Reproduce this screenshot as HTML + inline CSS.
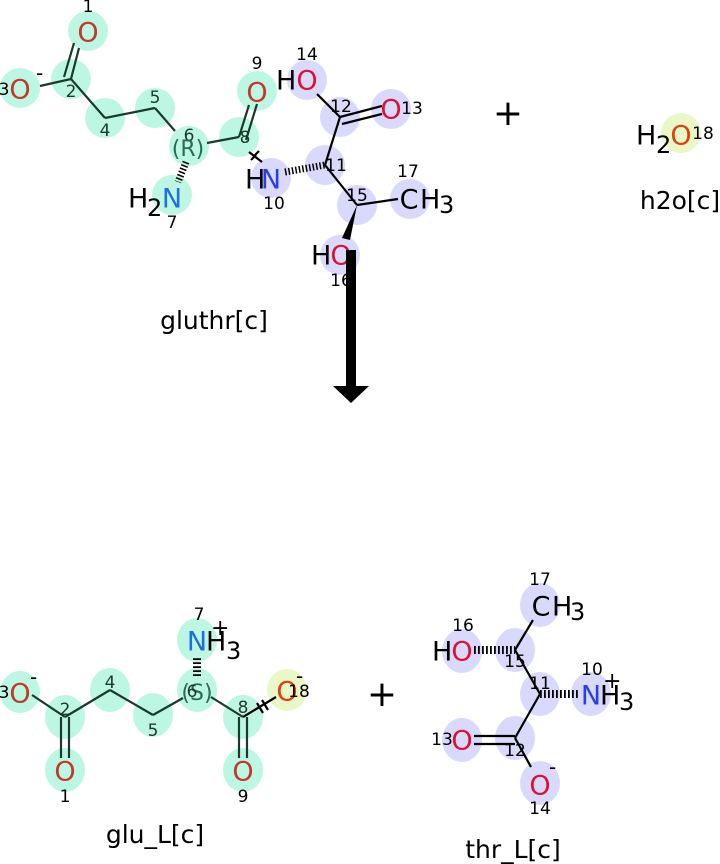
<!DOCTYPE html>
<html><head><meta charset="utf-8"><style>
html,body{margin:0;padding:0;background:#fff;}
svg{display:block;font-family:"DejaVu Sans","Liberation Sans",sans-serif;}
.a{font-size:27px;text-anchor:middle;dominant-baseline:central;}
.h{font-size:27px;dominant-baseline:central;fill:#000;}
.s{font-size:24px;fill:#000;}
.n{font-size:17px;text-anchor:middle;dominant-baseline:central;fill:#000;}
.c{fill:#1a3a2a;}
</style></head><body>
<svg width="720" height="864" viewBox="0 0 720 864" xmlns="http://www.w3.org/2000/svg">
<rect width="720" height="864" fill="#fff"/>
<g fill="#bdf7e4">
<circle cx="88" cy="31" r="20"/><circle cx="71" cy="79" r="20"/><circle cx="20" cy="88" r="20"/>
<circle cx="105" cy="118" r="20"/><circle cx="155" cy="108" r="20"/><circle cx="189" cy="146" r="20"/>
<circle cx="172" cy="195" r="20"/><circle cx="239" cy="137" r="20"/><circle cx="257" cy="91" r="20"/>
</g>
<g fill="#d9d9fb">
<circle cx="271" cy="178" r="20"/><circle cx="325" cy="165" r="20"/><circle cx="340" cy="117" r="20"/>
<circle cx="391" cy="109" r="20"/><circle cx="307" cy="80" r="20"/><circle cx="357" cy="205" r="20"/>
<circle cx="340" cy="255" r="20"/><circle cx="410" cy="199" r="20"/>
</g>
<circle cx="681" cy="133" r="20" fill="#eaf8c8"/>
<g stroke="#1a3a2a" stroke-width="2.2" fill="none">
<line x1="71" y1="79" x2="79" y2="48"/><line x1="64" y1="77" x2="74" y2="43"/>
<line x1="71" y1="79" x2="40" y2="86"/>
<line x1="71" y1="79" x2="105" y2="118"/><line x1="105" y1="118" x2="155" y2="108"/>
<line x1="155" y1="108" x2="175" y2="131"/>
<line x1="207" y1="143" x2="239" y2="137"/>
<line x1="239" y1="137" x2="249" y2="105"/><line x1="246" y1="140" x2="257" y2="104"/>
</g>
<line x1="186" y1="162" x2="178" y2="182" stroke="#000" stroke-width="7" stroke-dasharray="1.5 2"/>
<g stroke="#000" stroke-width="2.2">
<line x1="249" y1="152" x2="262" y2="162"/><line x1="254" y1="156" x2="259" y2="151"/><line x1="251" y1="160" x2="256" y2="155"/>
<line x1="325" y1="165" x2="340" y2="117"/>
<line x1="340" y1="117" x2="382" y2="106"/><line x1="342" y1="124" x2="382" y2="114"/>
<line x1="340" y1="117" x2="317" y2="94"/>
<line x1="325" y1="165" x2="357" y2="205"/><line x1="357" y1="205" x2="398" y2="199"/>
</g>
<line x1="285" y1="172" x2="325" y2="165" stroke="#000" stroke-width="7" stroke-dasharray="1.5 2"/>
<polygon points="357,205 342,238 350,240" fill="#000"/>
<text class="a" x="88" y="33" fill="#c0392b">O</text>
<text class="a" x="20" y="90" fill="#c0392b">O</text>
<text class="a" x="257" y="93" fill="#c0392b">O</text>
<text class="a" x="172" y="199" fill="#1e6fe0">N</text>
<text class="h" x="128" y="199">H</text><text class="s" x="147" y="216">2</text>
<text class="h" x="245" y="180">H</text><text class="a" x="271" y="180" fill="#2a3cf0">N</text>
<text class="h" x="276" y="81">H</text><text class="a" x="307" y="81" fill="#dd1133">O</text>
<text class="a" x="391" y="110" fill="#dd1133">O</text>
<text class="a" x="409" y="200" fill="#000">C</text><text class="h" x="420" y="200">H</text><text class="s" x="439" y="213">3</text>
<text class="h" x="311" y="256">H</text><text class="a" x="341" y="256" fill="#dd1133">O</text>
<text class="h" x="636" y="136">H</text><text class="s" x="656" y="153">2</text><text class="a" x="681" y="136" fill="#e04010">O</text>
<text class="n" x="88" y="7">1</text><text class="n c" x="71" y="92">2</text><text class="n" x="4" y="90">3</text>
<text class="n c" x="105" y="131">4</text><text class="n c" x="155" y="98">5</text><text class="n c" x="189" y="136">6</text>
<text class="n" x="172" y="223">7</text><text class="n c" x="245" y="138">8</text><text class="n" x="257" y="64">9</text>
<text class="n" x="274" y="204">10</text><text class="n" x="336" y="166">11</text><text class="n" x="341" y="107">12</text>
<text class="n" x="412" y="109">13</text><text class="n" x="307" y="55">14</text><text class="n" x="357" y="196">15</text>
<text class="n" x="341" y="281">16</text><text class="n" x="408" y="172">17</text><text class="n" x="703" y="134">18</text>
<text x="36" y="80" font-size="20" fill="#000">-</text>
<text x="188" y="156" font-size="22" text-anchor="middle" fill="#2a6a55">(R)</text>
<text x="214" y="329" font-size="25" text-anchor="middle" fill="#000">gluthr[c]</text>
<text x="680" y="209" font-size="25" text-anchor="middle" fill="#000">h2o[c]</text>
<text x="508" y="125" font-size="36" text-anchor="middle" fill="#000">+</text>
<rect x="346" y="250" width="10" height="137" fill="#000"/>
<polygon points="333,386 369,386 351,403" fill="#000"/>
<g fill="#bdf7e4">
<ellipse cx="20" cy="692" rx="20" ry="21"/><ellipse cx="65" cy="717" rx="20" ry="22"/><ellipse cx="65" cy="770" rx="20" ry="22"/>
<ellipse cx="110" cy="690" rx="20" ry="22"/><ellipse cx="153" cy="715" rx="20" ry="22"/><ellipse cx="197" cy="690" rx="20" ry="22"/>
<ellipse cx="197" cy="640" rx="20" ry="22"/><ellipse cx="243" cy="717" rx="20" ry="22"/><ellipse cx="243" cy="770" rx="20" ry="22"/>
</g>
<ellipse cx="287" cy="690" rx="20" ry="21" fill="#eaf8c8"/>
<g stroke="#1a3a2a" stroke-width="2.2">
<line x1="32" y1="695" x2="65" y2="717"/><line x1="65" y1="717" x2="110" y2="690"/>
<line x1="110" y1="690" x2="153" y2="715"/><line x1="153" y1="715" x2="183" y2="698"/>
<line x1="211" y1="697" x2="243" y2="717"/>
<line x1="61" y1="717" x2="61" y2="758"/><line x1="69" y1="717" x2="69" y2="758"/>
<line x1="239" y1="717" x2="239" y2="758"/><line x1="247" y1="717" x2="247" y2="758"/>
</g>
<g stroke="#000" stroke-width="2.2">
<line x1="243" y1="717" x2="276" y2="697"/><line x1="257" y1="703" x2="263" y2="713"/><line x1="262" y1="700" x2="268" y2="710"/>
</g>
<line x1="197" y1="676" x2="197" y2="656" stroke="#000" stroke-width="8" stroke-dasharray="1.8 2.2"/>
<text class="a" x="20" y="694" fill="#c0392b">O</text>
<text class="a" x="65" y="772" fill="#c0392b">O</text>
<text class="a" x="243" y="772" fill="#c0392b">O</text>
<text class="a" x="287" y="692" fill="#e04010">O</text>
<text class="a" x="197" y="642" fill="#1e6fe0">N</text><text class="h" x="206" y="642">H</text><text class="s" x="226" y="659">3</text>
<text x="211" y="635" font-size="22" fill="#000">+</text>
<text x="30" y="684" font-size="20" fill="#000">-</text>
<text x="296" y="683" font-size="20" fill="#000">-</text>
<text x="197" y="700" font-size="22" text-anchor="middle" fill="#2a6a55">(S)</text>
<text class="n" x="4" y="693">3</text><text class="n c" x="65" y="710">2</text><text class="n" x="65" y="797">1</text>
<text class="n c" x="110" y="683">4</text><text class="n c" x="153" y="731">5</text><text class="n c" x="192" y="692">6</text>
<text class="n" x="199" y="615">7</text><text class="n c" x="243" y="708">8</text><text class="n" x="243" y="797">9</text>
<text class="n" x="299" y="692">18</text>
<text x="155" y="843" font-size="25" text-anchor="middle" fill="#000">glu_L[c]</text>
<text x="382" y="706" font-size="36" text-anchor="middle" fill="#000">+</text>
<g fill="#d9d9fb">
<ellipse cx="540" cy="605" rx="20" ry="22"/><ellipse cx="515" cy="650" rx="20" ry="22"/><ellipse cx="462" cy="651" rx="20" ry="22"/>
<ellipse cx="540" cy="694" rx="20" ry="22"/><ellipse cx="591" cy="694" rx="20" ry="22"/><ellipse cx="515" cy="738" rx="20" ry="22"/>
<ellipse cx="462" cy="740" rx="20" ry="22"/><ellipse cx="540" cy="783" rx="20" ry="22"/>
</g>
<g stroke="#000" stroke-width="2.2">
<line x1="515" y1="650" x2="533" y2="620"/><line x1="515" y1="650" x2="540" y2="694"/>
<line x1="540" y1="694" x2="515" y2="738"/><line x1="515" y1="738" x2="531" y2="767"/>
<line x1="474" y1="736" x2="515" y2="736"/><line x1="474" y1="744" x2="515" y2="744"/>
</g>
<line x1="474" y1="650" x2="515" y2="650" stroke="#000" stroke-width="8" stroke-dasharray="1.8 2.2"/>
<line x1="540" y1="694" x2="580" y2="694" stroke="#000" stroke-width="8" stroke-dasharray="1.8 2.2"/>
<text class="a" x="541" y="607" fill="#000">C</text><text class="h" x="552" y="607">H</text><text class="s" x="570" y="620">3</text>
<text class="h" x="432" y="652">H</text><text class="a" x="462" y="652" fill="#dd1133">O</text>
<text class="a" x="591" y="696" fill="#2a3cf0">N</text><text class="h" x="600" y="696">H</text><text class="s" x="619" y="710">3</text>
<text x="603" y="688" font-size="22" fill="#000">+</text>
<text class="a" x="462" y="741" fill="#dd1133">O</text>
<text class="a" x="540" y="786" fill="#dd1133">O</text>
<text x="549" y="774" font-size="20" fill="#000">-</text>
<text class="n" x="540" y="580">17</text><text class="n" x="463" y="626">16</text><text class="n" x="515" y="662">15</text>
<text class="n" x="540" y="684">11</text><text class="n" x="592" y="670">10</text><text class="n" x="515" y="751">12</text>
<text class="n" x="442" y="740">13</text><text class="n" x="540" y="809">14</text>
<text x="513" y="858" font-size="25" text-anchor="middle" fill="#000">thr_L[c]</text>
</svg>
</body></html>
